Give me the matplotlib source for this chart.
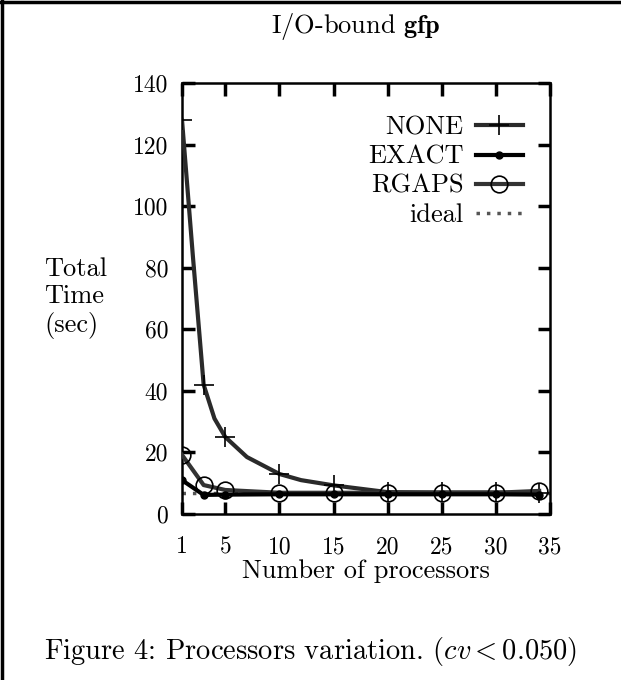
import matplotlib
matplotlib.use("Agg")
import matplotlib.pyplot as plt
from matplotlib.lines import Line2D

# Datos
procs_none = [1, 2, 3, 4, 5, 7, 10, 12, 15, 20, 25, 30, 34]
time_none = [128, 84, 42, 31, 25, 18.5, 13, 11, 9.3, 7.1, 7.0, 7.0, 6.7]
none_marks = [0, 2, 4, 6, 8, 9, 10, 11, 12]

procs = [1, 3, 5, 10, 15, 20, 25, 30, 34]
time_exact = [11, 6.2, 6.3, 6.4, 6.4, 6.4, 6.4, 6.4, 6.3]
time_rgaps = [19.2, 9.4, 7.8, 6.9, 6.9, 6.9, 6.9, 6.9, 7.5]

procs_ideal = [1, 35]
time_ideal = [6.8, 6.8]

xticks = [1, 5, 10, 15, 20, 25, 30, 35]
yticks = [0, 20, 40, 60, 80, 100, 120, 140]

plt.rcParams["font.family"] = "serif"
plt.rcParams["font.serif"] = ["cmr10"]
plt.rcParams["mathtext.fontset"] = "cm"
plt.rcParams["axes.unicode_minus"] = False
plt.rcParams["font.size"] = 19

W, H = 621, 680
fig = plt.figure(figsize=(W / 100, H / 100), dpi=100)
ax = fig.add_axes([182 / W, 1 - 514 / H, (550 - 182) / W, (514 - 83) / H])

ax.plot(procs_none, time_none, color="#2a2a2a", lw=3, marker="+",
        markersize=15, markeredgewidth=1.2, markeredgecolor="black",
        markevery=none_marks, label="NONE", zorder=3)
ax.plot(procs, time_exact, color="black", lw=3, marker="o", markersize=5,
        label="EXACT", zorder=4)
ax.plot(procs, time_rgaps, color="#333333", lw=3, marker="o", markersize=12,
        markerfacecolor="none", markeredgecolor="black", markeredgewidth=1.2,
        label="RGAPS", zorder=3)
ax.plot(procs_ideal, time_ideal, color="#555555", lw=2.5, linestyle=(0, (1, 2)),
        label="ideal", zorder=2)

ax.set_xlim(1, 35)
ax.set_ylim(0, 140)
ax.set_xticks(xticks)
ax.set_yticks(yticks)
ax.tick_params(direction="in", length=9, width=2.5, top=True, right=True,
               labelsize=17)
ax.tick_params(axis="x", pad=16)
ax.tick_params(axis="y", pad=10)
for sp in ax.spines.values():
    sp.set_linewidth(1.8)

ax.set_xlabel("Number of processors", labelpad=1)

leg = ax.legend(loc="upper right", bbox_to_anchor=(523 / W, 1 - 116 / H),
                bbox_transform=fig.transFigure, frameon=False, markerfirst=False,
                handlelength=1.8, handletextpad=0.45, labelspacing=0.2,
                borderpad=0, borderaxespad=0, numpoints=1)
for t in leg.get_texts():
    t.set_ha("right")

fig.text(356 / W, 1 - 27 / H, r"I/O-bound $\mathbf{gfp}$", ha="center",
         va="center")
fig.text(44 / W, 1 - 298 / H, "Total\nTime\n(sec)", ha="left", va="center",
         linespacing=1.19)
fig.text(311 / W, 1 - 651 / H, r"Figure 4: Processors variation. ($cv<0.050$)",
         ha="center", va="center", fontsize=20.5)

# Marco de la página (bordes izquierdo y superior)
fig.add_artist(Line2D([1.5 / W, 1.5 / W], [0, 1], color="black", lw=2.5,
                      transform=fig.transFigure))
fig.add_artist(Line2D([0, 1], [1 - 1.5 / H, 1 - 1.5 / H], color="black",
                      lw=2.5, transform=fig.transFigure))

fig.savefig("out.png", dpi=100)
